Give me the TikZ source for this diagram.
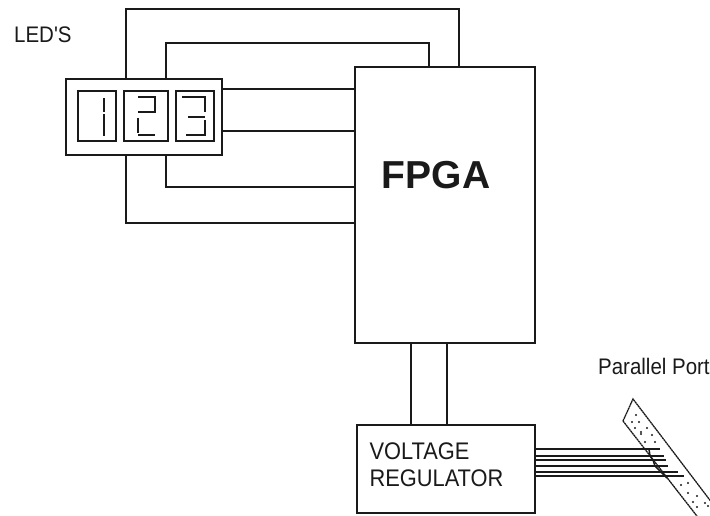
\documentclass[tikz,border=0pt]{standalone}
\usepackage{fontspec}
\setmainfont{Liberation Sans}
\newfontfamily\labelfont[FakeStretch=0.91]{Liberation Sans}
\usepackage{tikz}
\usetikzlibrary{positioning, calc}
\definecolor{wireink}{HTML}{1A1A1A}

\begin{document}
\begin{tikzpicture}[
        x=1pt,
        y=-1pt,
        box/.style={
            draw=wireink,
            line width=1.8pt,
            inner sep=0pt,
            fill=white
        },
        wire/.style={draw=wireink, line width=1.8pt},
        segment/.style={draw=wireink, line width=1.6pt},
        thinwire/.style={draw=wireink, line width=1.5pt},
        portedge/.style={draw=wireink, line width=1.3pt, dash pattern=on 2pt off 0.5pt},
        caption/.style={font=\labelfont\fontsize{22.5}{27}\selectfont, text=wireink, inner sep=0pt}
    ]
        \clip (0,0) rectangle (710,516);
        \fill[white] (0,0) rectangle (710,516);

        % wire routes
        \coordinate (outertop) at (126,9);
        \coordinate (outerdrop) at (459,9);
        \coordinate (innertop) at (166,43);
        \coordinate (innerdrop) at (429,43);
        \coordinate (rowone) at (222,89);
        \coordinate (rowtwo) at (222,131);
        \coordinate (innerbottom) at (166,187);
        \coordinate (outerbottom) at (126,223);
        \coordinate (supplyleft) at (411,384);
        \coordinate (supplyright) at (447,384);

        % parallel port
        \coordinate (portnorth) at (633,399);
        \coordinate (portwest) at (623,421);
        \coordinate (porteast) at (722,516);
        \coordinate (portsouth) at (700,520);
        \draw[portedge] (portwest) -- (portnorth) -- (porteast);
        \draw[portedge] (portwest) -- (portsouth);
        \foreach \px/\py in {636/415, 632/422, 639/422, 635/428, 647/428, 641/432,
                641/434, 652/435, 645/442, 655/442, 681/485, 688/483, 688/493,
                697/496, 693/502, 705/503, 697/507, 708/506} {
            \fill[wireink] (\px,\py) circle (1.1);
        }

        \node[box, minimum width=156pt, minimum height=76pt] (display) at (144,117) {};
        \node[box, minimum width=38pt, minimum height=50pt] (digitone) at (97,116) {};
        \node[box, minimum width=44pt, minimum height=50pt] (digittwo) at (146,116) {};
        \node[box, minimum width=38pt, minimum height=50pt] (digitthree) at (195,116) {};

        % digit strokes
        \draw[segment] (104,98) -- (104,112);
        \draw[segment] (104,114) -- (104,136);
        \draw[segment] (138,97) -- (155,97) -- (155,112) -- (138,112);
        \draw[segment] (138,118) -- (138,133);
        \draw[segment] (138,135) -- (155,135);
        \draw[segment] (182,97) -- (205,97) -- (205,112);
        \draw[segment] (188,117) -- (205,117);
        \draw[segment] (205,120) -- (205,135) -- (186,135);

        \node[box, minimum width=180pt, minimum height=276pt] (fpga) at (445,205) {};
        \node[font=\fontsize{39}{39}\selectfont\bfseries, text=wireink, inner sep=0pt] (fpgalabel) at (436,175) {FPGA};

        \node[box, minimum width=178pt, minimum height=88pt] (voltage) at (446,469) {};
        \node[caption, font=\labelfont\fontsize{24}{27}\selectfont, align=left] (voltagelabel) at (436.5,465) {VOLTAGE\\REGULATOR};

        \node[caption, anchor=west] (ledlabel) at (14,35) {LED'S};
        \node[caption, anchor=west] (portlabel) at (598,366) {Parallel Port};

        \draw[wire] (display.north -| outertop) |- (outerdrop) -- (fpga.north -| outerdrop);
        \draw[wire] (display.north -| innertop) |- (innerdrop) -- (fpga.north -| innerdrop);
        \draw[wire] (rowone) -- (fpga.west |- rowone);
        \draw[wire] (rowtwo) -- (fpga.west |- rowtwo);
        \draw[wire] (display.south -| innerbottom) |- (fpga.west |- innerbottom);
        \draw[wire] (display.south -| outerbottom) |- (fpga.west |- outerbottom);
        \draw[wire] (fpga.south -| supplyleft) -- (voltage.north -| supplyleft);
        \draw[wire] (fpga.south -| supplyright) -- (voltage.north -| supplyright);

        % port lines
        \foreach \wy/\wx in {449/660, 456/664, 460/666, 466/668, 472/678, 476/684} {
            \coordinate (wireend) at (\wx,\wy);
            \draw[thinwire] (voltage.east |- wireend) -- (wireend);
        }
        \draw[thinwire] (649,449) -- (650,456) -- (653,460) -- (655,466) -- (661,472) -- (667,478);
    \end{tikzpicture}
\end{document}
